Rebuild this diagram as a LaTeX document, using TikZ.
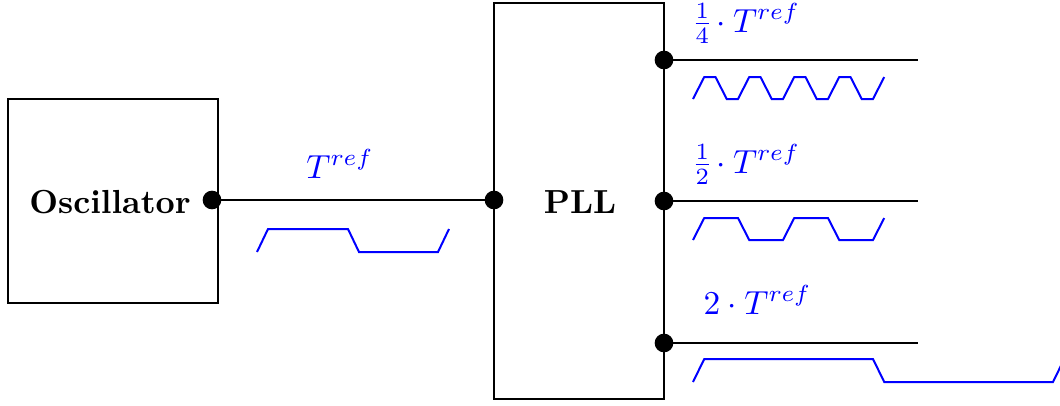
\documentclass[tikz,border=0pt]{standalone}
\nulldelimiterspace=0pt
\begin{document}
\begin{tikzpicture}[x=0.3pt,y=-0.3pt,
  box/.style={draw,line width=0.5pt,inner sep=0pt,font=\bfseries},
  dot/.style={circle,fill=black,inner sep=0pt,minimum size=5.6pt},
  wire/.style={line width=0.6pt},
  wave/.style={blue,line width=0.6pt,line join=miter},
  lbl/.style={blue,inner sep=0pt}]
\clip (0,0) rectangle (1060,405);
% boxes
\node[box,minimum width=63pt,minimum height=61.2pt] (osc) at (113,201) {};
\node[font=\bfseries] (osct) at (110,202) {Oscillator};
\node[box,minimum width=51pt,minimum height=118.8pt] (pll) at (579,201) {};
\node[font=\bfseries] (pllt) at (580,202) {PLL};
% dots
\node[dot] (o1) at (212,200) {};
\node[dot] (pin) at (494,200) {};
\node[dot] (q1) at (664,60) {};
\node[dot] (q2) at (664,201) {};
\node[dot] (q3) at (664,343) {};
\coordinate (e1) at (918,60);
\coordinate (e2) at (918,201);
\coordinate (e3) at (918,343);
% wires
\draw[wire] (o1.center) -- (pin.center);
\draw[wire] (q1.center) -- (e1);
\draw[wire] (q2.center) -- (e2);
\draw[wire] (q3.center) -- (e3);
% labels
\node[lbl,anchor=base] (l0) at (340,178) {$T^{ref}$};
\node[lbl,anchor=base west] (l1) at (695,32) {$\frac{1}{4}\cdot T^{ref}$};
\node[lbl,anchor=base west] (l2) at (695,173) {$\frac{1}{2}\cdot T^{ref}$};
\node[lbl,anchor=base west] (l3) at (703,314) {$2\cdot T^{ref}$};
% waveforms
\draw[wave] (257,252) -- (268,229) -- (348,229) -- (359,252) -- (438,252) -- (449,229);
\draw[wave] (693,99)
  \foreach \k in {0,1,2,3} {
    -- ++(11.25,-22) -- ++(11.25,0) -- ++(11.25,22) -- ++(11.25,0)
  } -- ++(11.25,-22);
\draw[wave] (693,240)
  \foreach \k in {0,1} {
    -- ++(11.25,-22) -- ++(33.75,0) -- ++(11.25,22) -- ++(33.75,0)
  } -- ++(11.25,-22);
\draw[wave] (693,382) -- ++(11.25,-23) -- ++(168.75,0) -- ++(11.25,23) -- ++(168.75,0) -- ++(11.25,-23);
\end{tikzpicture}
\end{document}
